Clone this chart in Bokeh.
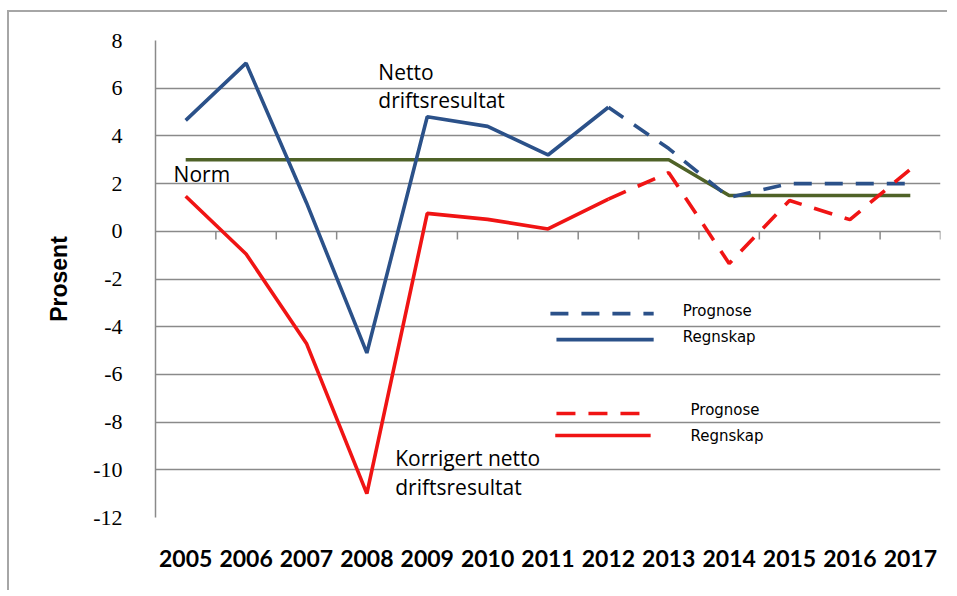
from bokeh.plotting import figure
from bokeh.models import Range1d, FixedTicker
from bokeh.core.properties import value
from bokeh.embed import file_html
from bokeh.resources import INLINE

# ---- data ----
years = [2005, 2006, 2007, 2008, 2009, 2010, 2011, 2012, 2013, 2014, 2015, 2016, 2017]
year_labels = [str(y) for y in years]
y_ticks = [-12, -10, -8, -6, -4, -2, 0, 2, 4, 6, 8]
y_tick_labels = ["-12", "-10", "-8", "-6", "-4", "-2", "0", "2", "4", "6", "8"]

netto_regnskap_years = [2005, 2006, 2007, 2008, 2009, 2010, 2011, 2012]
netto_regnskap = [4.65, 7.05, 1.2, -5.1, 4.8, 4.4, 3.2, 5.2]
netto_prognose_years = [2012, 2013, 2014, 2015, 2016, 2017]
netto_prognose = [5.2, 3.47, 1.42, 2.0, 2.0, 2.0]

korr_regnskap_years = [2005, 2006, 2007, 2008, 2009, 2010, 2011, 2012]
korr_regnskap = [1.47, -0.95, -4.7, -11.0, 0.75, 0.5, 0.1, 1.35]
korr_prognose_years = [2012, 2013, 2014, 2015, 2016, 2017]
korr_prognose = [1.35, 2.46, -1.35, 1.29, 0.49, 2.6]

norm = [3, 3, 3, 3, 3, 3, 3, 3, 3, 1.5, 1.5, 1.5, 1.5]

BLUE = "#2B5189"
RED = "#F01414"
GREEN = "#4F6228"
GRID = "#8a8a8a"

p = figure(width=940, height=580, output_backend="svg", toolbar_location=None,
           x_range=Range1d(years[0] - 0.5, years[-1] + 0.5),
           y_range=Range1d(y_ticks[0], y_ticks[-1]),
           min_border_left=146, min_border_right=9, min_border_top=28, min_border_bottom=75)
p.margin = (10, 0, 0, 7)
p.styles = {"border-left": "2px solid #a6a6a6", "border-top": "2px solid #a6a6a6"}
p.outline_line_color = None
p.background_fill_color = "white"
p.border_fill_color = "white"

# grid
p.xgrid.grid_line_color = None
p.ygrid.ticker = FixedTicker(ticks=y_ticks)
p.ygrid.grid_line_color = GRID
p.ygrid.grid_line_width = 1.5

# y axis
p.yaxis.ticker = FixedTicker(ticks=y_ticks)
p.yaxis.major_label_overrides = {t: l for t, l in zip(y_ticks, y_tick_labels)}
p.yaxis.axis_line_color = GRID
p.yaxis.axis_line_width = 1.5
p.yaxis.major_tick_line_color = None
p.yaxis.minor_tick_line_color = None
p.yaxis.major_label_standoff = 27
p.yaxis.major_label_text_font = "Liberation Serif"
p.yaxis.major_label_text_font_size = "22px"
p.yaxis.major_label_text_color = "black"
p.yaxis.axis_label = "Prosent"
p.yaxis.axis_label_text_font = "Liberation Sans"
p.yaxis.axis_label_text_font_style = "bold"
p.yaxis.axis_label_text_font_size = "23px"
p.yaxis.axis_label_text_color = "black"
p.yaxis.axis_label_standoff = 18

# x axis
p.xaxis.ticker = FixedTicker(ticks=years)
p.xaxis.major_label_overrides = {y: l for y, l in zip(years, year_labels)}
p.xaxis.axis_line_color = None
p.xaxis.major_tick_line_color = None
p.xaxis.minor_tick_line_color = None
p.xaxis.major_label_standoff = 26
p.xaxis.major_label_text_font = "Lato"
p.xaxis.major_label_text_font_style = "bold"
p.xaxis.major_label_text_font_size = "23px"
p.xaxis.major_label_text_color = "black"

# category boundary ticks on the zero line
bounds = [y + 0.5 for y in years]
p.segment(x0=bounds, y0=[0] * len(bounds), x1=bounds, y1=[-0.34] * len(bounds),
          line_color=GRID, line_width=1.5)

# series
LW = 3.6
p.line(years, norm, line_color=GREEN, line_width=LW)
p.line(netto_regnskap_years, netto_regnskap, line_color=BLUE, line_width=LW)
p.line(netto_prognose_years, netto_prognose, line_color=BLUE, line_width=LW, line_dash="18 13")
p.line(korr_regnskap_years, korr_regnskap, line_color=RED, line_width=LW)
p.line(korr_prognose_years, korr_prognose, line_color=RED, line_width=LW, line_dash="19 13")

# annotations
def txt(x, y, s, size="21px", font="Open Sans"):
    p.text(x=[x], y=[y], text=[s], text_font=value(font), text_font_size=size,
           text_baseline="middle", text_align="left", text_color="black")

txt(2008.19, 6.70, "Netto")
txt(2008.19, 5.52, "driftsresultat")
txt(2004.80, 2.42, "Norm")
txt(2008.47, -9.49, "Korrigert netto")
txt(2008.47, -10.74, "driftsresultat")

# manual legend
p.line([2011.04, 2012.75], [-3.45, -3.45], line_color=BLUE, line_width=LW, line_dash="18 13")
p.line([2011.14, 2012.75], [-4.54, -4.54], line_color=BLUE, line_width=LW)
p.line([2011.14, 2012.58], [-7.64, -7.64], line_color=RED, line_width=LW, line_dash="19 13")
p.line([2011.12, 2012.70], [-8.56, -8.56], line_color=RED, line_width=LW)
txt(2013.23, -3.33, "Prognose", size="15px", font="DejaVu Sans")
txt(2013.23, -4.45, "Regnskap", size="15px", font="DejaVu Sans")
txt(2013.36, -7.51, "Prognose", size="15px", font="DejaVu Sans")
txt(2013.36, -8.60, "Regnskap", size="15px", font="DejaVu Sans")

open("out.html", "w").write(file_html(p, INLINE))
